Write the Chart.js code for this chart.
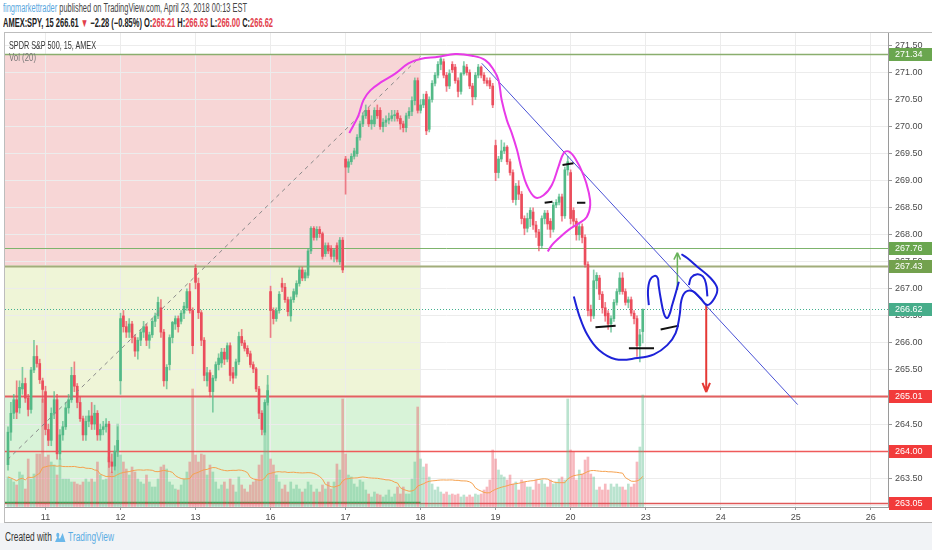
<!DOCTYPE html>
<html>
<head>
<meta charset="utf-8">
<script src="https://cdn.jsdelivr.net/npm/chart.js@4.4.1/dist/chart.umd.min.js"></script>
<style>
  body { margin: 0; width: 932px; height: 550px; background: #fff; overflow: hidden; position: relative;
         font-family: "Liberation Sans Narrow", "Liberation Sans", Arial, sans-serif; }
  .t { position: absolute; white-space: nowrap; transform-origin: 0 0; line-height: 14px; }
  #h1 { left: 3px; top: 1px; font-size: 12px; color: #454545; }
  #h1 .u { color: #5aa8de; }
  #h2 { left: 3px; top: 16px; font-size: 12px; color: #222; font-weight: bold; }
  #h2 .r { color: #e2404c; }
  #foot { position: absolute; left: 0; top: 523px; width: 932px; height: 27px; background: #f1f3f6; }
  #frame { position: absolute; left: 4px; top: 32px; width: 928px; height: 491px; box-sizing: border-box;
           border-left: 1px solid #bdbdbd; border-top: 1px solid #bdbdbd; border-bottom: 1px solid #b5b5b5; }
  #wrap { position: absolute; left: 5px; top: 33px; width: 927px; height: 489px; }
  #lg1 { left: 9px; top: 38px; font-size: 11px; color: #333; }
  #lg2 { left: 9px; top: 51px; font-size: 10px; color: #777; }
  #ft { left: 5px; top: 530px; font-size: 12px; color: #333; }
  #ft .tv { color: #5aace3; }
</style>
</head>
<body>
<div id="foot"></div>
<div id="frame"></div>
<div id="wrap"><canvas id="chart" width="927" height="489"></canvas></div>
<div class="t" id="h1" data-w="244"><span class="u">fingmarkettrader</span> published on TradingView.com, April 23, 2018 00:13 EST</div>
<div class="t" id="h2" data-w="270">AMEX:SPY, 15 266.61 <span class="r">▼</span> −2.28 (−0.85%) O:<span class="r">266.21</span> H:<span class="r">266.63</span> L:<span class="r">266.00</span> C:<span class="r">266.62</span></div>
<div class="t" id="lg1" data-w="87">SPDR S&amp;P 500, 15, AMEX</div>
<div class="t" id="lg2" data-w="27">Vol (20)</div>
<div class="t" id="ft" data-w="109">Created with <svg width="17" height="12" style="vertical-align:-2px"><path d="M1 11 L5 5 L8 8 L12 2 L16 11 Z" fill="#6bb8ea"/><circle cx="5" cy="4" r="2.2" fill="#6bb8ea"/></svg> <span class="tv">TradingView</span></div>

<script>
// x = candle index, 0 = first 15-min bar of April 11
const firstIndex = -13;
const dayTicks = [0, 26, 52, 78, 104, 130, 156, 182, 208, 234, 260, 286];
const dayLabels = ['11', '12', '13', '16', '17', '18', '19', '20', '23', '24', '25', '26'];
const priceTicks = [263.0, 263.5, 264.0, 264.5, 265.0, 265.5, 266.0, 266.5, 267.0, 267.5, 268.0, 268.5, 269.0, 269.5, 270.0, 270.5, 271.0, 271.5];

const opens = [
  263.75,264.35,264.70,264.95,264.80,265.15,265.25,264.98,264.77,265.50,265.75,265.62,265.30,
  265.10,264.40,264.20,264.70,264.95,263.95,264.30,264.45,264.80,264.95,265.40,265.20,264.90,264.60,264.30,264.55,264.65,264.50,264.70,264.30,264.40,264.45,264.50,263.80,263.72,264.00,
  265.30,266.50,266.30,266.20,266.35,266.10,265.85,266.05,266.20,266.30,266.05,266.15,266.40,266.50,266.65,266.20,265.30,265.60,266.10,266.35,266.45,266.40,266.55,266.65,266.95,266.60,
  267.38,267.10,266.56,266.05,265.30,265.45,265.10,265.35,265.60,265.63,265.83,265.70,265.95,265.45,265.40,265.65,266.12,266.00,265.90,265.80,265.60,265.52,265.15,264.70,264.35,264.90,
  266.95,266.60,266.45,266.60,267.10,267.03,266.80,266.50,266.80,266.90,267.10,267.35,267.20,267.25,267.70,268.12,267.95,268.10,268.02,267.65,267.80,267.75,267.60,267.80,267.50,267.90,
  269.40,269.25,269.35,269.45,269.50,269.80,270.05,270.20,270.30,270.05,270.05,270.30,270.30,270.00,270.08,270.12,270.15,270.20,270.25,270.15,270.05,269.98,270.20,270.28,270.48,270.85,
  270.30,270.40,270.60,269.95,270.50,270.80,270.95,271.15,271.20,270.95,270.75,271.15,271.10,270.85,270.65,270.98,271.10,271.00,270.75,270.55,270.95,271.10,270.95,270.85,270.85,270.75,
  269.65,269.15,269.40,269.55,269.62,269.35,269.15,268.65,268.90,268.75,268.30,268.12,268.30,268.42,268.18,268.05,267.80,268.30,268.40,268.25,268.10,268.55,268.60,268.70,268.35,269.20,
  269.15,268.45,268.25,268.00,268.15,267.95,267.45,266.62,266.50,267.15,267.20,266.90,266.65,266.55,266.35,266.45,266.75,266.95,267.20,266.95,266.75,266.80,266.55,266.45,265.95,266.21
];
const highs = [
  264.45,264.90,265.05,265.30,265.30,265.55,265.35,265.05,265.55,266.05,265.95,265.70,265.35,
  265.20,264.50,264.80,265.10,265.05,264.40,264.55,264.90,265.05,265.55,265.65,265.25,265.00,264.65,264.65,264.75,264.90,264.85,264.75,264.50,264.55,264.60,264.55,263.95,264.10,264.45,
  266.55,266.60,266.40,266.45,266.40,266.15,266.10,266.25,266.40,266.35,266.20,266.45,266.55,266.85,266.80,266.25,265.60,266.15,266.40,266.50,266.50,266.60,266.75,267.00,267.10,266.65,
  267.45,267.20,266.60,266.10,265.55,265.50,265.40,265.65,265.80,265.90,265.90,266.00,266.00,265.55,265.70,266.20,266.25,266.05,265.95,265.85,265.65,265.55,265.20,264.75,264.95,265.40,
  267.05,266.65,266.65,266.95,267.20,267.10,266.85,266.85,267.00,267.15,267.40,267.40,267.35,267.75,268.15,268.15,268.15,268.15,268.05,267.85,267.85,267.80,267.75,267.85,267.95,267.95,
  269.45,269.40,269.50,269.60,269.85,270.10,270.25,270.40,270.35,270.20,270.35,270.40,270.35,270.15,270.20,270.25,270.30,270.30,270.30,270.20,270.10,270.25,270.35,270.55,270.90,270.90,
  270.50,270.60,270.65,270.55,270.85,271.00,271.20,271.30,271.25,271.00,271.05,271.20,271.15,270.90,271.00,271.20,271.15,271.05,270.80,271.00,271.15,271.12,271.00,270.90,270.90,270.80,
  269.75,269.45,269.75,269.70,269.65,269.40,269.20,268.95,269.00,268.80,268.35,268.40,268.50,268.50,268.25,268.10,268.35,268.45,268.45,268.30,268.60,268.65,268.75,268.75,269.25,269.45,
  269.20,268.50,268.30,268.20,268.20,268.00,267.50,266.70,267.35,267.30,267.25,266.95,266.75,266.60,266.50,266.80,267.00,267.30,267.30,267.00,266.85,266.85,266.60,266.50,266.25,266.63
];
const lows = [
  263.65,264.20,264.60,264.60,264.70,265.05,264.90,264.65,264.70,265.45,265.55,265.25,264.90,
  264.30,264.10,264.10,264.60,263.85,263.85,264.20,264.40,264.70,264.90,265.10,264.80,264.55,264.20,264.20,264.45,264.40,264.40,264.20,264.20,264.30,264.35,263.70,263.60,263.65,263.90,
  265.05,266.20,266.10,266.10,266.00,265.75,265.70,265.95,266.10,265.95,265.90,266.10,266.30,266.45,266.10,265.20,265.15,265.50,266.00,266.25,266.20,266.35,266.45,266.60,266.55,265.80,
  267.00,266.45,265.95,265.30,265.20,265.00,264.72,265.30,265.50,265.55,265.60,265.65,265.30,265.25,265.35,265.60,265.95,265.85,265.75,265.55,265.45,265.10,264.60,264.30,264.30,264.85,
  266.10,266.35,266.40,266.55,266.95,266.75,266.50,266.40,266.75,266.85,267.05,267.15,267.15,267.20,267.65,267.90,267.90,267.95,267.55,267.60,267.65,267.55,267.50,267.50,267.45,267.30,
  268.75,269.15,269.30,269.40,269.45,269.75,270.00,270.15,270.00,269.95,270.00,270.15,269.95,269.90,270.00,270.05,270.10,270.10,270.10,269.95,269.90,269.90,270.15,270.20,270.40,270.25,
  270.25,270.35,269.85,269.90,270.45,270.75,270.90,271.05,270.90,270.65,270.70,271.00,270.80,270.55,270.60,270.95,270.95,270.70,270.40,270.50,270.90,270.90,270.80,270.75,270.70,270.35,
  269.00,269.05,269.35,269.50,269.30,269.10,268.60,268.55,268.65,268.20,268.00,268.05,268.15,268.10,267.95,267.70,267.75,268.20,268.10,267.95,268.05,268.50,268.55,268.25,268.30,269.10,
  268.20,268.15,267.90,267.90,267.85,267.40,266.50,266.40,266.45,267.00,266.80,266.55,266.40,266.25,266.20,266.40,266.70,266.90,266.90,266.70,266.65,266.50,266.35,265.75,265.65,266.00
];
const closes = [
  264.35,264.70,264.95,264.72,265.18,265.25,264.98,264.77,265.50,265.75,265.62,265.32,265.14,
  264.40,264.20,264.70,264.95,263.95,264.30,264.45,264.80,264.95,265.40,265.20,264.90,264.60,264.30,264.55,264.65,264.50,264.70,264.30,264.40,264.45,264.50,263.80,263.72,264.00,264.20,
  266.45,266.30,266.20,266.35,266.10,265.85,266.05,266.20,266.30,266.05,266.15,266.40,266.50,266.75,266.20,265.30,265.55,266.10,266.38,266.45,266.30,266.55,266.68,266.95,266.60,265.95,
  267.12,266.56,266.05,265.40,265.45,265.10,265.35,265.60,265.72,265.83,265.70,265.95,265.40,265.35,265.65,266.12,266.00,265.90,265.80,265.60,265.52,265.15,264.70,264.40,264.90,265.12,
  266.60,266.45,266.60,266.90,267.03,266.80,266.58,266.80,266.95,267.10,267.35,267.20,267.30,267.70,268.12,267.95,268.10,268.02,267.60,267.80,267.70,267.60,267.72,267.55,267.90,267.35,
  269.25,269.35,269.45,269.55,269.80,270.05,270.20,270.30,270.05,270.12,270.30,270.20,270.00,270.08,270.12,270.15,270.20,270.22,270.15,270.05,269.98,270.20,270.28,270.48,270.85,270.30,
  270.40,270.50,269.92,270.50,270.80,270.95,271.15,271.25,270.95,270.75,270.98,271.05,270.85,270.65,270.98,271.12,271.00,270.75,270.55,270.95,271.10,270.95,270.85,270.80,270.75,270.40,
  269.15,269.40,269.55,269.62,269.35,269.15,268.65,268.90,268.75,268.30,268.12,268.30,268.45,268.18,268.05,267.80,268.30,268.40,268.20,268.10,268.55,268.60,268.70,268.35,269.20,269.35,
  268.30,268.25,268.00,268.15,267.95,267.45,266.60,266.50,267.15,267.25,266.90,266.65,266.50,266.35,266.45,266.75,266.95,267.20,266.95,266.75,266.80,266.55,266.45,265.95,266.15,266.62
];
// volume, millions of shares
const volumes = [
  1.5,1.4,1.25,1.1,1.75,1.6,0.9,2.4,1.4,1.65,2.65,2.65,5.4,
  2.5,2.6,2.25,2.1,1.6,2.4,1.4,1.4,1.4,1.25,1.25,1.15,1.1,1.25,1.4,1.25,1.4,1.25,2.25,1.6,1.35,1.4,2.5,1.75,2.0,4.15,
  2.6,2.25,1.9,1.6,2.0,1.75,1.4,1.25,1.15,1.6,1.25,1.0,1.0,1.4,2.0,2.1,1.9,1.25,1.1,0.9,0.85,1.1,1.4,1.75,2.25,5.9,
  2.6,2.25,2.65,2.6,1.6,2.1,1.75,1.25,0.9,1.1,1.25,0.9,1.4,1.1,0.75,1.5,1.1,0.9,0.75,1.1,1.25,1.4,2.1,2.6,3.75,6.1,
  2.4,2.1,1.6,1.25,0.9,1.1,0.75,1.25,0.9,1.1,0.9,0.75,0.9,1.25,1.1,0.75,0.9,0.75,1.1,0.9,1.25,0.9,1.25,2.15,1.85,5.4,
  2.65,1.6,1.5,1.15,1.0,1.35,1.25,0.85,0.65,0.5,0.75,0.65,0.6,0.5,0.6,0.85,0.5,0.65,1.0,0.65,1.0,0.65,0.65,1.4,2.25,5.0,
  2.4,2.0,2.15,1.5,1.15,0.85,1.0,0.75,0.65,0.75,0.6,0.65,0.6,0.65,0.5,0.6,0.5,0.6,0.5,0.65,0.6,0.65,0.85,1.0,1.35,2.85,
  2.4,1.85,1.6,1.5,1.35,1.6,1.15,1.25,0.85,1.35,1.25,1.0,1.0,0.85,1.35,1.15,1.35,1.15,1.0,1.35,1.15,1.25,1.4,1.5,1.35,5.4,
  2.85,2.75,1.35,1.85,1.65,2.35,2.5,1.65,1.5,0.85,1.0,0.85,1.15,0.85,1.15,1.0,1.15,1.0,1.0,0.85,1.15,1.0,1.15,2.25,3.0,5.6
];

// horizontal levels and position-tool zones
const levelValues = [271.34, 267.76, 267.43, 266.62, 265.01, 264.00, 263.05];
const zoneTops = [271.34, 267.43, 265.01];
const zoneBottoms = [267.43, 265.01, 263.05];
const zoneEnd = 130;

// hand drawings, [candle index, price]
const magentaPath = [[105.3,269.88],[106.8,270.03],[108.5,270.21],[110.2,270.49],[112.6,270.67],[116.6,270.83],[121.2,270.98],[125.8,271.17],[129.9,271.25],[136.2,271.29],[142.0,271.34],[147.8,271.31],[152.4,271.23],[155.3,271.05],[157.0,270.86],[158.1,270.49],[159.9,270.12],[161.6,269.88],[163.4,269.57],[165.1,269.20],[166.8,268.92],[169.7,268.69],[172.6,268.73],[175.5,268.92],[177.8,269.26],[179.6,269.51],[181.3,269.54],[183.6,269.41],[186.5,269.10],[188.2,268.80],[188.8,268.55],[187.6,268.33],[184.8,268.21],[181.3,268.09],[177.8,267.93],[175.5,267.81],[174.1,267.69]];
const cupPath = [[183.1,266.86],[184.9,266.52],[187.8,266.15],[191.8,265.87],[197.6,265.70],[205.1,265.72],[210.9,265.79],[215.5,265.96],[218.4,266.18],[219.8,266.52],[220.4,266.79],[221.8,266.94],[224.2,266.96],[227.0,266.83],[229.4,266.70],[231.9,266.83],[232.8,267.01],[230.5,267.20],[225.9,267.41],[222.4,267.57],[220.4,267.64]];
const wavePath = [[209.1,266.70],[208.8,266.95],[209.5,267.16],[211.1,267.24],[212.2,267.20],[212.5,267.07],[213.2,266.83],[214.3,266.55],[215.3,266.46],[216.2,266.52],[217.2,266.70],[218.4,266.92],[219.5,267.13]];
const loopPath = [[223.0,267.07],[223.8,267.21],[225.9,267.27],[227.8,267.23],[228.9,267.10],[229.4,266.86]];
const blackDashes = [[173.0,268.59,175.7,268.61],[179.2,269.29,183.0,269.32],[184.2,268.59,187.1,268.59],[190.6,266.29,197.6,266.32],[202.2,265.90,210.9,265.90],[213.2,266.25,219.5,266.32]];
const trendLine = [[151.2,271.17],[260.7,264.86]];
const positionLine = [[-13.2,263.84],[130.0,271.30]];
const greenArrow = [[219.0,266.98,219.0,267.67],[217.8,267.54,219.0,267.67],[220.1,267.54,219.0,267.67]];
const redArrow = [[229.0,266.70,229.0,265.09],[227.7,265.26,229.0,265.09],[230.3,265.26,229.0,265.09]];

const UP = '#53b987', DOWN = '#eb4d5c';
const levelStyle = [
  { line: '#8aae6e', w: 1.5, box: '#6aa64f' },
  { line: '#7db46c', w: 1, box: '#6aa64f' },
  { line: '#a2ad7b', w: 2, box: '#73a14e' },
  { line: '#43b08f', w: 1, dash: [1, 2], box: '#47ad8a' },
  { line: '#e36060', w: 2, box: '#f23b3b' },
  { line: '#ef5a5a', w: 1.5, box: '#f23b3b' },
  { line: '#e05858', w: 1.5, box: '#f23b3b' }
];
const zoneColors = ['#f7d6d6', '#eff5d7', '#d8f3d8'];

const idx = closes.map((c, k) => firstIndex + k);
const isUp = closes.map((c, k) => c >= opens[k]);
const volMA = volumes.map((v, k) => {
  const win = volumes.slice(Math.max(0, k - 19), k + 1);
  return win.reduce((a, b) => a + b, 0) / win.length;
});

function pts(list) { return list.map(p => ({ x: p[0], y: p[1] })); }
function segs(list) {
  const out = [];
  list.forEach(s => out.push({ x: s[0], y: s[1] }, { x: s[2], y: s[3] }, { x: s[2], y: null }));
  return out;
}
function drawing(data, color, width, extra) {
  return Object.assign({ type: 'line', data, borderColor: color, borderWidth: width, pointRadius: 0,
    tension: 0.4, yAxisID: 'y', order: 1, spanGaps: false }, extra || {});
}

const zonesPlugin = {
  id: 'zones',
  beforeDraw(chart) {
    const { ctx, chartArea: a, scales: { x, y } } = chart;
    const right = x.getPixelForValue(zoneEnd);
    ctx.save();
    zoneTops.forEach((top, k) => {
      const y1 = y.getPixelForValue(top), y2 = y.getPixelForValue(zoneBottoms[k]);
      ctx.fillStyle = zoneColors[k];
      ctx.fillRect(a.left, y1, right - a.left, y2 - y1);
    });
    ctx.restore();
  },
  beforeDatasetsDraw(chart) {
    const { ctx, chartArea: a, scales: { x, y } } = chart;
    ctx.save();
    levelValues.forEach((v, k) => {
      const st = levelStyle[k];
      const py = Math.round(y.getPixelForValue(v)) + 0.5;
      ctx.strokeStyle = st.line;
      ctx.lineWidth = st.w;
      ctx.setLineDash(st.dash || []);
      ctx.beginPath();
      ctx.moveTo(a.left, py);
      ctx.lineTo(a.right, py);
      ctx.stroke();
    });
    // bottom edge of the target zone is green inside the tool
    const by = Math.round(y.getPixelForValue(zoneBottoms[2])) - 0.5;
    ctx.setLineDash([]);
    ctx.strokeStyle = '#3f9a48';
    ctx.lineWidth = 1.5;
    ctx.beginPath();
    ctx.moveTo(a.left, by);
    ctx.lineTo(x.getPixelForValue(zoneEnd), by);
    ctx.stroke();
    ctx.restore();
  },
  afterDraw(chart) {
    const { ctx, chartArea: a, scales: { y } } = chart;
    ctx.save();
    ctx.font = '9px "Liberation Sans", Arial, sans-serif';
    ctx.textBaseline = 'middle';
    levelValues.forEach((v, k) => {
      const py = Math.round(y.getPixelForValue(v));
      ctx.fillStyle = levelStyle[k].box;
      ctx.fillRect(a.right + 1, py - 6, 44, 13);
      ctx.fillStyle = '#fff';
      ctx.fillText(v.toFixed(2), a.right + 7, py + 0.5);
    });
    ctx.restore();
  }
};

Chart.defaults.font.family = '"Liberation Sans", Arial, sans-serif';
Chart.defaults.font.size = 9;
Chart.defaults.color = '#4a4a4a';

new Chart(document.getElementById('chart'), {
  type: 'bar',
  data: {
    datasets: [
      drawing(pts(magentaPath), '#e83ae8', 2),
      drawing(pts(cupPath), '#1d22d8', 2),
      drawing(pts(wavePath), '#1d22d8', 2),
      drawing(pts(loopPath), '#1d22d8', 2),
      drawing(segs(blackDashes), '#111', 2, { tension: 0 }),
      drawing(pts(trendLine), '#4a52d6', 1, { tension: 0 }),
      drawing(pts(positionLine), '#8a8a8a', 1, { tension: 0, borderDash: [4, 4], order: 3 }),
      drawing(segs(greenArrow), '#69b35a', 1.5, { tension: 0 }),
      drawing(segs(redArrow), '#e53935', 2, { tension: 0 }),
      {
        data: idx.map((x, k) => ({ x, y: [opens[k], closes[k]] })),
        backgroundColor: isUp.map(u => u ? UP : DOWN),
        barThickness: 2, minBarLength: 1, grouped: false, yAxisID: 'y', order: 4
      },
      {
        data: idx.map((x, k) => ({ x, y: [lows[k], highs[k]] })),
        backgroundColor: isUp.map(u => u ? 'rgba(83,185,135,0.7)' : 'rgba(235,77,92,0.7)'),
        barThickness: 1, grouped: false, yAxisID: 'y', order: 5
      },
      {
        type: 'line',
        data: idx.map((x, k) => ({ x, y: volMA[k] })),
        borderColor: '#f5a14e', borderWidth: 1, pointRadius: 0, yAxisID: 'yv', order: 8
      },
      {
        data: idx.map((x, k) => ({ x, y: volumes[k] })),
        backgroundColor: isUp.map(u => u ? 'rgba(83,185,135,0.4)' : 'rgba(235,77,92,0.4)'),
        barThickness: 2, grouped: false, yAxisID: 'yv', order: 10
      }
    ]
  },
  options: {
    responsive: false,
    animation: false,
    events: [],
    layout: { padding: 0 },
    plugins: { legend: { display: false }, tooltip: { enabled: false } },
    scales: {
      x: {
        type: 'linear', min: -14.04, max: 292.0, offset: false,
        grid: { color: '#ececec', offset: false, tickLength: 3, tickColor: '#999' },
        border: { color: '#9a9a9a' },
        afterBuildTicks: s => { s.ticks = dayTicks.map(v => ({ value: v })); },
        afterFit: s => { s.height = 15; s.paddingLeft = 0; s.paddingRight = 0; },
        ticks: { autoSkip: false, maxRotation: 0, padding: 2, callback: v => dayLabels[dayTicks.indexOf(v)] }
      },
      y: {
        position: 'right', min: 262.967, max: 271.73,
        grid: { color: '#ececec', tickLength: 4, tickColor: '#999' },
        border: { color: '#9a9a9a' },
        afterBuildTicks: s => { s.ticks = priceTicks.map(v => ({ value: v })); },
        afterFit: s => { s.width = 44; s.paddingTop = 0; s.paddingBottom = 0; },
        ticks: { padding: 3, callback: v => v.toFixed(2) }
      },
      yv: { display: false, min: 0, max: 23.7 }
    }
  },
  plugins: [zonesPlugin]
});

// squeeze the header and footer texts to the narrow width of the original
document.querySelectorAll('.t[data-w]').forEach(el => {
  const w = el.getBoundingClientRect().width;
  el.style.transform = 'scaleX(' + (Number(el.dataset.w) / w) + ')';
});
</script>
</body>
</html>
